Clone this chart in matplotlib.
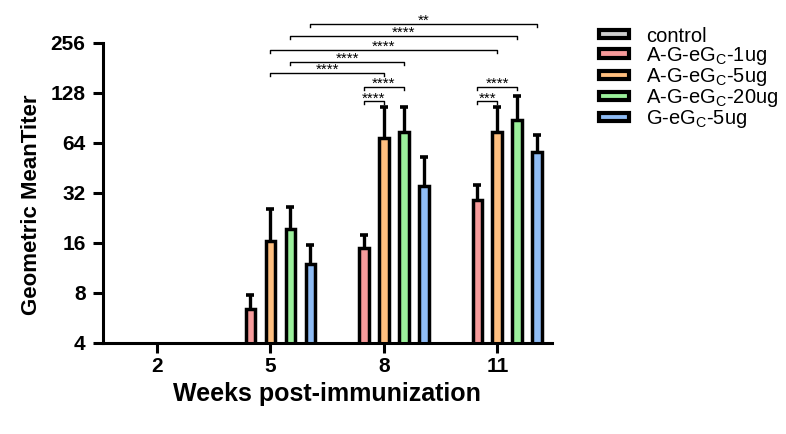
import numpy as np
import matplotlib.pyplot as plt
from matplotlib.patches import Rectangle

plt.rcParams['font.family'] = ['Liberation Sans', 'DejaVu Sans']
plt.rcParams['mathtext.fontset'] = 'custom'
plt.rcParams['mathtext.rm'] = 'Liberation Sans'

weeks = ['2', '5', '8', '11']
groups = ['control', 'A-G-eG$_\\mathrm{C}$-1ug', 'A-G-eG$_\\mathrm{C}$-5ug',
          'A-G-eG$_\\mathrm{C}$-20ug', 'G-eG$_\\mathrm{C}$-5ug']
colors = ['#d0d0d0', '#f79b9b', '#ffbf7f', '#9cf19c', '#8fbcf5']

# geometric mean titers (values below 4 are off the axis)
control = [2, 2, 2, 2]
ag_1ug = [2, 5.4, 14.0, 28.0]
ag_5ug = [2, 15.5, 67.5, 73.5]
ag_20ug = [2, 18.5, 73.5, 86.5]
g_5ug = [2, 10.9, 34.0, 55.5]

# upper error bar ends
control_hi = [2, 2, 2, 2]
ag_1ug_hi = [2, 7.8, 17.9, 35.8]
ag_5ug_hi = [2, 25.6, 105, 105]
ag_20ug_hi = [2, 26.4, 105, 123]
g_5ug_hi = [2, 15.6, 52.5, 71.5]

means = [control, ag_1ug, ag_5ug, ag_20ug, g_5ug]
highs = [control_hi, ag_1ug_hi, ag_5ug_hi, ag_20ug_hi, g_5ug_hi]

# (week idx, group idx) -> (week idx, group idx), label
comparisons = [
    ((1, 4), (3, 4), '**'),
    ((1, 3), (3, 3), '****'),
    ((1, 2), (3, 2), '****'),
    ((1, 3), (2, 3), '****'),
    ((1, 2), (2, 2), '****'),
    ((2, 1), (2, 3), '****'),
    ((2, 1), (2, 2), '****'),
    ((3, 1), (3, 3), '****'),
    ((3, 1), (3, 2), '***'),
]
bracket_y = [333, 282, 232, 197, 169, 139, 114, 139, 114]

fig = plt.figure(figsize=(7.86, 4.34), dpi=100)
ax = fig.add_axes([0.131, 0.21, 0.571, 0.691])

x = np.arange(len(weeks))
step = 0.176
width = 0.085
for i, (m, h) in enumerate(zip(means, highs)):
    pos = x + (i - 2) * step
    m = np.array(m, dtype=float)
    h = np.array(h, dtype=float)
    ax.bar(pos, m, width=width, bottom=1, color=colors[i], edgecolor='black',
           linewidth=2.5, zorder=2)
    ax.errorbar(pos, m, yerr=[np.zeros_like(m), h - m], fmt='none',
                ecolor='black', elinewidth=2.4, capsize=2.6, capthick=2.6, zorder=1)

ax.set_yscale('log', base=2)
ax.set_ylim(4, 256)
ax.set_xlim(-0.476, 3.48)
yt = [4, 8, 16, 32, 64, 128, 256]
ax.set_yticks(yt)
ax.set_yticklabels([str(v) for v in yt])
ax.minorticks_off()
ax.set_xticks(x)
ax.set_xticklabels(weeks)

for s in ['top', 'right']:
    ax.spines[s].set_visible(False)
for s in ['left', 'bottom']:
    ax.spines[s].set_linewidth(2.2)
ax.tick_params(axis='both', width=2.2, length=7.5, labelsize=15, pad=3)
ax.tick_params(axis='y', pad=5)
for lab in ax.get_xticklabels() + ax.get_yticklabels():
    lab.set_fontweight('bold')

ax.set_xlabel('Weeks post-immunization', fontsize=18, fontweight='bold', labelpad=4)
ax.set_ylabel('Geometric MeanTiter', fontsize=16, fontweight='bold')
ax.yaxis.set_label_coords(-0.136, 0.46)

tip = 2 ** (3 / 50)
for ((wa, ga), (wb, gb), lab), yb in zip(comparisons, bracket_y):
    xa = wa + (ga - 2) * step
    xb = wb + (gb - 2) * step
    ax.plot([xa, xa, xb, xb], [yb / tip, yb, yb, yb / tip], color='black',
            lw=1.0, clip_on=False, zorder=3)
    ax.text((xa + xb) / 2, yb * 2 ** (-1 / 50), lab, ha='center', va='baseline',
            fontsize=11, clip_on=False)

handles = [Rectangle((0, 0), 1, 1, facecolor=c, edgecolor='black', linewidth=3)
           for c in colors]
fig.legend(handles, groups, loc='upper left', bbox_to_anchor=(0.749, 0.962),
           frameon=False, fontsize=14.5, handlelength=1.5, handleheight=0.25,
           handletextpad=0.85, labelspacing=-0.04, borderpad=0)

fig.savefig('out.png', dpi=100)
